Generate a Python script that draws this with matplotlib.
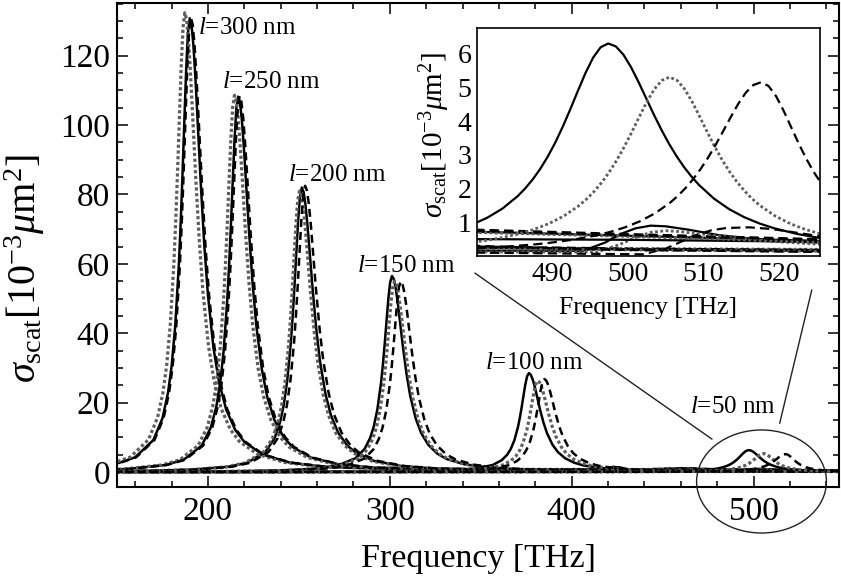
import matplotlib
matplotlib.use("Agg")
import matplotlib.pyplot as plt
from matplotlib.patches import Ellipse
from matplotlib.ticker import MultipleLocator, FixedLocator

plt.rcParams.update({
    "font.family": ["Liberation Serif", "DejaVu Serif"],
    "mathtext.fontset": "custom",
    "mathtext.rm": "Liberation Serif",
    "mathtext.it": "Liberation Serif:italic",
    "mathtext.bf": "Liberation Serif:bold",
})

# ---------------- data (frequency in THz, sigma_scat in 1e-3 um^2) ----------------
# l = 300 nm
f300_solid = [150, 160, 170, 175, 178, 180, 182, 184, 185, 186, 187, 188, 189, 190, 191, 192, 193, 194, 196, 198,
              200, 203, 206, 210, 215, 220, 230, 245, 265, 300, 350, 400, 415, 423, 432, 450, 480, 500, 525, 547]
y300_solid = [2.43, 4.25, 9.21, 15.5, 22.71, 30.37, 41.99, 59.72, 71.63, 85.54, 100.81, 115.52, 126.61, 130.8, 128.79,
              123.11, 114.67, 104.64, 83.71, 65.4, 51.04, 35.93, 26.16, 18.05, 12.15, 8.69, 5.04, 2.71, 1.47,
              0.9, 0.6, 0.5, 0.7, 1.5, 0.7, 0.35, 0.25, 0.2, 0.18, 0.15]
f300_dotted = [147.3, 157.3, 167.3, 172.3, 175.3, 177.3, 179.3, 181.3, 182.3, 183.3, 184.3, 185.3, 186.3, 187.3, 188.3,
               189.3, 190.3, 191.3, 193.3, 195.3, 197.3, 200.3, 203.3, 207.3, 212.3, 217.3, 227.3, 242.3, 262.3,
               300, 350, 400, 415, 424, 433, 450, 480, 500, 525, 547]
y300_dotted = [2.46, 4.3, 9.32, 15.69, 22.98, 30.74, 42.5, 60.45, 72.5, 86.59, 102.04, 116.94, 128.16, 132.4, 130.36,
               124.61, 116.07, 105.92, 84.74, 66.2, 51.66, 36.37, 26.48, 18.27, 12.3, 8.79, 5.1, 2.74, 1.49,
               0.9, 0.6, 0.5, 0.6, 1.3, 0.6, 0.35, 0.25, 0.22, 0.2, 0.18]
f300_dashed = [145.6, 150.6, 160.6, 170.6, 175.6, 178.6, 180.6, 182.6, 184.6, 185.6, 186.6, 187.6, 188.6, 189.6, 190.6,
               191.6, 192.6, 193.6, 194.6, 196.6, 198.6, 200.6, 203.6, 206.6, 210.6, 215.6, 220.6, 230.6, 245.6, 265.6,
               300, 350, 400, 416, 425, 434, 450, 480, 500, 525, 547]
y300_dashed = [1.93, 2.43, 4.26, 9.22, 15.52, 22.74, 30.42, 42.05, 59.81, 71.74, 85.67, 100.96, 115.7, 126.81, 131,
               128.98, 123.3, 114.85, 104.8, 83.84, 65.5, 51.12, 35.99, 26.2, 18.08, 12.17, 8.7, 5.04, 2.71, 1.47,
               0.95, 0.65, 0.5, 0.6, 1.4, 0.6, 0.35, 0.28, 0.22, 0.18, 0.15]

# l = 250 nm
f250_solid = [146.6, 156.6, 176.6, 186.6, 196.6, 201.6, 204.6, 206.6, 208.6, 210.6, 211.6, 212.6, 213.6, 214.6, 215.6,
              216.6, 217.6, 218.6, 219.6, 220.6, 222.6, 224.6, 226.6, 229.6, 232.6, 236.6, 241.6, 246.6, 256.6, 271.6,
              291.6, 330, 380, 440, 452, 461, 470, 480, 500, 525, 547]
y250_solid = [0.66, 0.9, 2.01, 3.52, 7.62, 12.82, 18.78, 25.12, 34.73, 49.4, 59.25, 70.76, 83.39, 95.56, 104.74,
              108.2, 106.53, 101.84, 94.86, 86.56, 69.25, 54.1, 42.22, 29.72, 21.64, 14.93, 10.05, 7.18, 4.17, 2.24,
              1.22, 0.85, 0.75, 0.75, 0.9, 1.1, 0.85, 0.72, 0.6, 0.45, 0.4]
f250_dotted = [144.6, 154.6, 174.6, 184.6, 194.6, 199.6, 202.6, 204.6, 206.6, 208.6, 209.6, 210.6, 211.6, 212.6, 213.6,
               214.6, 215.6, 216.6, 217.6, 218.6, 220.6, 222.6, 224.6, 227.6, 230.6, 234.6, 239.6, 244.6, 254.6, 269.6,
               289.6, 330, 380, 440, 453, 462, 471, 480, 500, 525, 547]
y250_dotted = [0.67, 0.9, 2.02, 3.53, 7.65, 12.87, 18.85, 25.22, 34.86, 49.59, 59.47, 71.02, 83.7, 95.92, 105.12,
               108.6, 106.93, 102.21, 95.21, 86.88, 69.5, 54.3, 42.38, 29.83, 21.72, 14.99, 10.09, 7.21, 4.18, 2.25,
               1.22, 0.85, 0.75, 0.7, 0.85, 0.95, 0.8, 0.7, 0.58, 0.42, 0.38]
f250_dashed = [147.4, 157.4, 177.4, 187.4, 197.4, 202.4, 205.4, 207.4, 209.4, 211.4, 212.4, 213.4, 214.4, 215.4, 216.4,
               217.4, 218.4, 219.4, 220.4, 221.4, 223.4, 225.4, 227.4, 230.4, 233.4, 237.4, 242.4, 247.4, 257.4, 272.4,
               292.4, 330, 380, 440, 454, 464, 474, 480, 500, 525, 547]
y250_dashed = [0.67, 0.9, 2.02, 3.52, 7.63, 12.85, 18.82, 25.17, 34.8, 49.5, 59.36, 70.89, 83.54, 95.74, 104.93,
               108.4, 106.73, 102.03, 95.03, 86.72, 69.38, 54.2, 42.3, 29.78, 21.68, 14.96, 10.07, 7.2, 4.17, 2.24,
               1.22, 0.85, 0.75, 0.75, 0.9, 1.05, 0.85, 0.78, 0.65, 0.5, 0.45]

# l = 200 nm
f200_solid = [140, 151.6, 171.6, 191.6, 211.6, 221.6, 231.6, 236.6, 239.6, 241.6, 243.6, 245.6, 246.6, 247.6, 248.6,
              249.6, 250.6, 251.6, 252.6, 253.6, 254.6, 255.6, 257.6, 259.6, 261.6, 264.6, 267.6, 271.6, 276.6, 281.6,
              291.6, 306.6, 326.6, 360, 400, 450, 480, 494, 497, 499, 501, 503, 505, 508, 512, 517, 521, 525, 547]
y200_solid = [0.2, 0.25, 0.39, 0.68, 1.53, 2.67, 5.77, 9.72, 14.24, 19.04, 26.32, 37.44, 44.9, 53.63, 63.2,
              72.42, 79.38, 82, 80.74, 77.18, 71.89, 65.6, 52.48, 41.0, 32.0, 22.53, 16.4, 11.32, 7.62, 5.44,
              3.16, 1.7, 0.92, 0.6, 0.4, 0.22, 0.16, 0.15, 0.4, 0.65, 0.82, 0.9, 0.88, 0.78, 0.62, 0.5, 0.44, 0.4, 0.32]
f200_dotted = [140, 150.4, 170.4, 190.4, 210.4, 220.4, 230.4, 235.4, 238.4, 240.4, 242.4, 244.4, 245.4, 246.4, 247.4,
               248.4, 249.4, 250.4, 251.4, 252.4, 253.4, 254.4, 256.4, 258.4, 260.4, 263.4, 266.4, 270.4, 275.4, 280.4,
               290.4, 305.4, 325.4, 360, 400, 450, 480, 496, 499, 501, 503, 505, 507, 511, 516, 520, 525, 547]
y200_dotted = [0.2, 0.24, 0.38, 0.67, 1.51, 2.63, 5.7, 9.6, 14.06, 18.81, 26.0, 36.98, 44.36, 52.97, 62.43,
               71.54, 78.41, 81, 79.75, 76.24, 71.01, 64.8, 51.84, 40.5, 31.61, 22.25, 16.2, 11.18, 7.52, 5.38,
               3.12, 1.68, 0.91, 0.6, 0.4, 0.2, 0.12, 0.12, 0.35, 0.55, 0.7, 0.75, 0.72, 0.62, 0.5, 0.42, 0.35, 0.28]
f200_dashed = [140, 153.4, 173.4, 193.4, 213.4, 223.4, 233.4, 238.4, 241.4, 243.4, 245.4, 247.4, 248.4, 249.4, 250.4,
               251.4, 252.4, 253.4, 254.4, 255.4, 256.4, 257.4, 259.4, 261.4, 263.4, 266.4, 269.4, 273.4, 278.4, 283.4,
               293.4, 308.4, 328.4, 360, 400, 450, 480, 502, 505, 507, 509, 511, 513, 516, 519, 522, 525, 547]
y200_dashed = [0.2, 0.25, 0.39, 0.68, 1.53, 2.68, 5.81, 9.78, 14.32, 19.16, 26.48, 37.67, 45.18, 53.96, 63.58,
               72.86, 79.86, 82.5, 81.23, 77.65, 72.33, 66.0, 52.8, 41.25, 32.19, 22.66, 16.5, 11.39, 7.66, 5.48,
               3.18, 1.71, 0.93, 0.62, 0.4, 0.2, 0.1, 0.05, 0.22, 0.42, 0.62, 0.76, 0.83, 0.85, 0.8, 0.7, 0.6, 0.4]

# l = 150 nm
f150_solid = [140, 151.2, 201.2, 221.2, 241.2, 261.2, 271.2, 281.2, 286.2, 289.2, 291.2, 293.2, 295.2, 296.2, 297.2,
              298.2, 299.2, 300.2, 301.2, 302.2, 303.2, 304.2, 305.2, 307.2, 309.2, 311.2, 314.2, 317.2, 321.2, 326.2,
              331.2, 341.2, 356.2, 376.2, 420, 480, 500, 525, 547]
y150_solid = [0.07, 0.076, 0.17, 0.27, 0.47, 1.05, 1.84, 3.98, 6.7, 9.81, 13.12, 18.14, 25.8, 30.94, 36.95,
              43.54, 49.9, 54.69, 56.5, 55.63, 53.18, 49.53, 45.2, 36.16, 28.25, 22.05, 15.52, 11.3, 7.8, 5.25,
              3.75, 2.18, 1.17, 0.64, 0.5, 0.5, 0.48, 0.42, 0.38]
f150_dotted = [140, 152.6, 202.6, 222.6, 242.6, 262.6, 272.6, 282.6, 287.6, 290.6, 292.6, 294.6, 296.6, 297.6, 298.6,
               299.6, 300.6, 301.6, 302.6, 303.6, 304.6, 305.6, 306.6, 308.6, 310.6, 312.6, 315.6, 318.6, 322.6, 327.6,
               332.6, 342.6, 357.6, 377.6, 420, 480, 500, 525, 547]
y150_dotted = [0.07, 0.074, 0.17, 0.26, 0.46, 1.02, 1.79, 3.87, 6.52, 9.55, 12.77, 17.66, 25.11, 30.12, 35.97,
               42.39, 48.58, 53.24, 55, 54.15, 51.77, 48.22, 44.0, 35.2, 27.5, 21.46, 15.11, 11.0, 7.59, 5.11,
               3.65, 2.12, 1.14, 0.62, 0.5, 0.7, 0.6, 0.4, 0.35]
f150_dashed = [140, 156, 206, 226, 246, 266, 276, 286, 291, 294, 296, 298, 300, 301, 302,
               303, 304, 305, 306, 307, 308, 309, 310, 312, 314, 316, 319, 322, 326, 331,
               336, 346, 361, 381, 420, 480, 500, 525, 547]
y150_dashed = [0.06, 0.074, 0.17, 0.26, 0.46, 1.02, 1.79, 3.87, 6.52, 9.55, 12.77, 17.66, 25.11, 30.12, 35.97,
               42.39, 48.58, 53.24, 55, 54.15, 51.77, 48.22, 44.0, 35.2, 27.5, 21.46, 15.11, 11.0, 7.59, 5.11,
               3.65, 2.12, 1.14, 0.62, 0.55, 0.75, 0.62, 0.48, 0.42]

# l = 100 nm
f100_solid = [146.5, 226.5, 276.5, 296.5, 316.5, 336.5, 346.5, 356.5, 361.5, 364.5, 366.5, 368.5, 370.5, 371.5, 372.5,
              373.5, 374.5, 375.5, 376.5, 377.5, 378.5, 379.5, 380.5, 382.5, 384.5, 386.5, 389.5, 392.5, 396.5, 401.5,
              406.5, 416.5, 431.5, 451.5, 480, 500, 525, 547]
y100_solid = [0.016, 0.038, 0.086, 0.13, 0.24, 0.53, 0.93, 2.01, 3.38, 4.95, 6.62, 9.15, 13.01, 15.61, 18.64,
              21.96, 25.17, 27.59, 28.5, 28.06, 26.82, 24.99, 22.8, 18.24, 14.25, 11.12, 7.83, 5.7, 3.93, 2.65,
              1.89, 1.1, 0.59, 0.32, 0.25, 0.2, 0.15, 0.12]
f100_dotted = [140, 151.3, 231.3, 281.3, 301.3, 321.3, 341.3, 351.3, 361.3, 366.3, 369.3, 371.3, 373.3, 375.3, 376.3,
               377.3, 378.3, 379.3, 380.3, 381.3, 382.3, 383.3, 384.3, 385.3, 387.3, 389.3, 391.3, 394.3, 397.3, 401.3,
               406.3, 411.3, 421.3, 436.3, 456.3, 480, 500, 525, 547]
y100_dotted = [0.014, 0.015, 0.035, 0.079, 0.12, 0.22, 0.49, 0.85, 1.85, 3.12, 4.57, 6.11, 8.44, 12.01, 14.4,
               17.2, 20.27, 23.23, 25.46, 26.3, 25.89, 24.75, 23.06, 21.04, 16.83, 13.15, 10.26, 7.22, 5.26, 3.63,
               2.44, 1.75, 1.01, 0.54, 0.30, 0.22, 0.18, 0.14, 0.12]
f100_dashed = [140, 155, 235, 285, 305, 325, 345, 355, 365, 370, 373, 375, 377, 379, 380,
               381, 382, 383, 384, 385, 386, 387, 388, 389, 391, 393, 395, 398, 401, 405,
               410, 415, 425, 440, 460, 480, 495, 500, 525, 547]
y100_dashed = [0.014, 0.015, 0.036, 0.08, 0.13, 0.22, 0.5, 0.87, 1.89, 3.18, 4.65, 6.22, 8.6, 12.24, 14.68,
               17.53, 20.65, 23.67, 25.94, 26.8, 26.39, 25.22, 23.5, 21.44, 17.15, 13.4, 10.46, 7.36, 5.36, 3.7,
               2.49, 1.78, 1.03, 0.55, 0.30, 0.3, 0.2, 0.18, 0.12, 0.1]

# l = 50 nm
f50_solid = [147.4, 297.4, 397.4, 422.4, 442.4, 457.4, 467.4, 472.4, 475.4, 477.4, 479.4, 481.4, 483.4, 485.4, 486.4,
             487.4, 488.4, 489.4, 490.4, 491.4, 492.4, 493.4, 494.4, 495.4, 496.4, 497.4, 498.4, 499.4, 500.4, 501.4,
             502.4, 503.4, 504.4, 505.4, 506.4, 507.4, 508.4, 509.4, 511.4, 513.4, 515.4, 517.4, 519.4, 522.4, 525.4,
             532.4, 552.4]
y50_solid = [0.003, 0.009, 0.035, 0.062, 0.115, 0.214, 0.37, 0.52, 0.656, 0.777, 0.932, 1.135, 1.405, 1.77, 2.0,
             2.268, 2.582, 2.947, 3.367, 3.842, 4.361, 4.905, 5.431, 5.882, 6.19, 6.3, 6.213, 5.969, 5.602, 5.158,
             4.681, 4.205, 3.754, 3.34, 2.97, 2.642, 2.356, 2.105, 1.697, 1.387, 1.148, 0.964, 0.818, 0.653, 0.532,
             0.351, 0.147]
f50_dotted = [140.5, 155.5, 305.5, 405.5, 430.5, 450.5, 465.5, 475.5, 479.5, 481.5, 483.5, 485.5, 487.5, 489.5, 491.5,
              493.5, 494.5, 495.5, 496.5, 497.5, 498.5, 499.5, 500.5, 501.5, 502.5, 503.5, 504.5, 505.5, 506.5, 507.5,
              508.5, 509.5, 510.5, 511.5, 512.5, 513.5, 514.5, 515.5, 516.5, 517.5, 519.5, 521.5, 523.5, 525.5, 527.5,
              530.5, 535.5, 545.5]
y50_dotted = [0.002, 0.002, 0.007, 0.03, 0.052, 0.096, 0.18, 0.312, 0.407, 0.472, 0.552, 0.653, 0.784, 0.955, 1.182,
              1.489, 1.682, 1.908, 2.172, 2.479, 2.832, 3.232, 3.669, 4.126, 4.569, 4.948, 5.207, 5.3, 5.207, 4.948,
              4.569, 4.126, 3.669, 3.232, 2.832, 2.479, 2.172, 1.908, 1.682, 1.489, 1.182, 0.955, 0.784, 0.653, 0.552,
              0.438, 0.312, 0.18]
f50_dashed = [140, 167.6, 317.6, 417.6, 442.6, 462.6, 477.6, 482.6, 487.6, 489.6, 492.6, 495.6, 497.6, 499.6, 501.6,
              503.6, 505.6, 506.6, 507.6, 508.6, 509.6, 510.6, 511.6, 512.6, 513.6, 514.6, 515.6, 516.6, 517.6, 518.6,
              519.6, 520.6, 521.6, 522.6, 523.6, 524.6, 525.6, 527.6, 529.6, 532.6, 537.6, 547.6]
y50_dashed = [0.002, 0.003, 0.008, 0.033, 0.058, 0.107, 0.198, 0.256, 0.342, 0.389, 0.478, 0.602, 0.71, 0.849, 1.03,
              1.268, 1.585, 1.781, 2.01, 2.273, 2.575, 2.917, 3.296, 3.703, 4.12, 4.515, 4.847, 5.07, 5.15, 5.039,
              4.734, 4.301, 3.812, 3.325, 2.877, 2.481, 2.142, 1.612, 1.238, 0.867, 0.526, 0.248]

curves = [
    (f300_solid, y300_solid, "solid"), (f300_dotted, y300_dotted, "dotted"), (f300_dashed, y300_dashed, "dashed"),
    (f250_solid, y250_solid, "solid"), (f250_dotted, y250_dotted, "dotted"), (f250_dashed, y250_dashed, "dashed"),
    (f200_solid, y200_solid, "solid"), (f200_dotted, y200_dotted, "dotted"), (f200_dashed, y200_dashed, "dashed"),
    (f150_solid, y150_solid, "solid"), (f150_dotted, y150_dotted, "dotted"), (f150_dashed, y150_dashed, "dashed"),
    (f100_solid, y100_solid, "solid"), (f100_dotted, y100_dotted, "dotted"), (f100_dashed, y100_dashed, "dashed"),
    (f50_solid, y50_solid, "solid"), (f50_dotted, y50_dotted, "dotted"), (f50_dashed, y50_dashed, "dashed"),
]

# text labels: rod length, anchor frequency [THz], anchor value
length_labels = ["300", "250", "200", "150", "100", "50"]
label_x = [194.7, 207.9, 244.1, 282.0, 352.4, 465.0]
label_y = [128.0, 112.4, 85.6, 59.4, 31.4, 18.7]

xticks_main = [200, 300, 400, 500]
yticks_main = [0, 20, 40, 60, 80, 100, 120]
xticks_inset = [490, 500, 510, 520]
yticks_inset = [1, 2, 3, 4, 5, 6]

# ---------------- styles ----------------
GRAY = "#5e5e5e"
STYLE_MAIN = {
    "solid": dict(color="black", lw=1.8, ls="-"),
    "dotted": dict(color=GRAY, lw=2.3, ls=(0, (1.0, 0.8))),
    "dashed": dict(color="black", lw=1.8, ls=(0, (3.2, 2.0))),
}
STYLE_INSET = {
    "solid": dict(color="black", lw=1.6, ls="-"),
    "dotted": dict(color=GRAY, lw=2.0, ls=(0, (1.0, 0.9))),
    "dashed": dict(color="black", lw=1.6, ls=(0, (4.2, 2.3))),
}

W, H = 841, 579
fig = plt.figure(figsize=(W / 100, H / 100), dpi=100)

# main axes
ax = fig.add_axes([117 / W, 1 - 486.7 / H, (839 - 117) / W, (486.7 - 3) / H])
for f, y, kind in curves:
    ax.plot(f, y, **STYLE_MAIN[kind])

ax.set_xlim(150, 547)
ax.set_ylim(-4.24, 135.2)
ax.xaxis.set_major_locator(FixedLocator(xticks_main))
ax.xaxis.set_minor_locator(MultipleLocator(20))
ax.yaxis.set_major_locator(FixedLocator(yticks_main))
ax.yaxis.set_minor_locator(MultipleLocator(5))
ax.tick_params(which="both", direction="in", top=True, right=True, width=1.1, labelsize=24)
ax.tick_params(which="major", length=8)
ax.tick_params(which="minor", length=4)
ax.tick_params(axis="x", pad=7)
ax.tick_params(axis="y", pad=5)
for s in ax.spines.values():
    s.set_linewidth(1.5)

ax.set_xlabel("Frequency [THz]", fontsize=24.5)
ax.xaxis.set_label_coords(0.5, -0.118)
ax.set_ylabel(r"$\sigma_{\rm scat}[10^{-3}\mu{\rm m}^2]$", fontsize=29)
ax.yaxis.set_label_coords(-0.097, 0.45)

for lab, lx, ly in zip(length_labels, label_x, label_y):
    ax.text(lx, ly, r"$l$=" + lab + " nm", fontsize=18, ha="left", va="center")

# zoom ellipse and connector lines (annotation geometry)
ellipse_center = (504.4, -2.74)
ellipse_size = (71.4, 29.7)
ax.add_patch(Ellipse(ellipse_center, ellipse_size[0], ellipse_size[1], fill=False,
                     lw=1.0, edgecolor="#222222", clip_on=False, zorder=5))
connector_a = ([346.9, 477.1], [57.3, 9.5])
connector_b = ([532.0, 514.4], [52.4, 14.1])
ax.plot(*connector_a, color="#222222", lw=1.0, zorder=5)
ax.plot(*connector_b, color="#222222", lw=1.0, zorder=5)

# inset
axin = fig.add_axes([476.7 / W, 1 - 256 / H, (820 - 476.7) / W, (256 - 28.3) / H])
axin.set_facecolor("white")
for f, y, kind in curves:
    axin.plot(f, y, **STYLE_INSET[kind])
axin.set_xlim(480, 525.4)
axin.set_ylim(0, 6.75)
axin.xaxis.set_major_locator(FixedLocator(xticks_inset))
axin.yaxis.set_major_locator(FixedLocator(yticks_inset))
axin.tick_params(which="both", length=0, labelsize=20, pad=4)
for s in axin.spines.values():
    s.set_linewidth(1.2)
axin.set_xlabel("Frequency [THz]", fontsize=18.5)
axin.xaxis.set_label_coords(0.5, -0.18)
axin.set_ylabel(r"$\sigma_{\rm scat}[10^{-3}\mu{\rm m}^2]$", fontsize=21)
axin.yaxis.set_label_coords(-0.072, 0.53)

fig.savefig("out.png", dpi=100)
